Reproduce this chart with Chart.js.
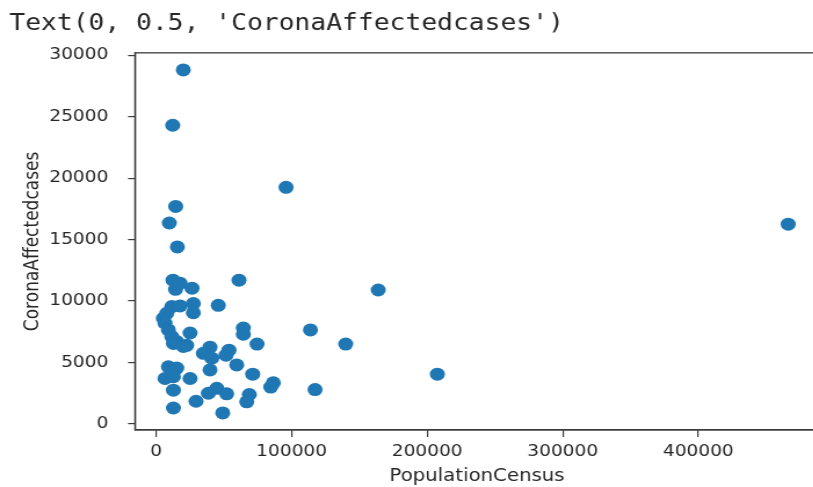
<!DOCTYPE html>
<html>
<head>
<meta charset="utf-8">
<script src="https://cdn.jsdelivr.net/npm/chart.js@4"></script>
<style>
    html, body { margin: 0; padding: 0; background: #fff; overflow: hidden; }
    #wrap { width: 720px; height: 487px; transform: scaleX(1.16); transform-origin: 0 0; }
</style>
</head>
<body>
<div id="wrap"><canvas id="scatter_chart" width="720" height="487"></canvas></div>
<script>
const populationCensus = [
    20100, 12300, 95900, 14500, 9800, 15700, 12500, 17700, 14400, 26500,
    61200, 45900, 163900, 113900, 27500, 27500, 11600, 17700, 7900, 5400,
    6600, 9100, 11600, 15300, 22600, 25100, 12800, 20100, 39800, 34900,
    41100, 39800, 53800, 51600, 59500, 64400, 64400, 74500, 71300, 9100,
    15300, 6600, 12800, 12800, 25100, 44800, 38600, 52100, 29500, 12800,
    49200, 68800, 66900, 86500, 84600, 117300, 139900, 207500, 466300
];
const coronaAffectedCases = [
    28800, 24300, 19250, 17700, 16350, 14400, 11700, 11450, 10950, 11050,
    11700, 9650, 10900, 7650, 9800, 9050, 9550, 9600, 9000, 8600,
    8200, 7650, 7100, 6700, 6400, 7400, 6550, 6300, 6250, 5750,
    5350, 4400, 6000, 5600, 4800, 7800, 7300, 6500, 4050, 4650,
    4550, 3700, 3850, 2750, 3700, 2900, 2500, 2450, 1850, 1300,
    900, 2400, 1800, 3350, 3000, 2800, 6500, 4050, 16250
];
const xTicks = [0, 100000, 200000, 300000, 400000];
const yTicks = [0, 5000, 10000, 15000, 20000, 25000, 30000];

const axisColor = '#3c3c3c';
const textColor = '#262626';

// matplotlib-like box around the plot area
const framePlugin = {
    id: 'frame',
    afterDatasetsDraw(chart) {
        const { ctx, chartArea: a } = chart;
        ctx.save();
        ctx.strokeStyle = axisColor;
        ctx.lineWidth = 1.3;
        ctx.strokeRect(a.left, a.top, a.right - a.left, a.bottom - a.top);
        ctx.restore();
    }
};

const points = populationCensus.map((x, i) => ({ x: x, y: coronaAffectedCases[i] }));

new Chart(document.getElementById('scatter_chart'), {
    type: 'scatter',
    data: {
        datasets: [{
            data: points,
            backgroundColor: '#1f77b4',
            borderWidth: 0,
            pointRadius: 6.5,
            pointHoverRadius: 6.5,
        }]
    },
    options: {
        responsive: false,
        animation: false,
        layout: { padding: { left: 8, right: 14, top: 0, bottom: 0 } },
        plugins: {
            legend: { display: false },
            tooltip: { enabled: false },
            title: {
                display: true,
                text: "Text(0, 0.5, 'CoronaAffectedcases')",
                align: 'start',
                color: textColor,
                font: { family: '"DejaVu Sans Mono", monospace', size: 22.7, weight: 'normal' },
                padding: { top: 10.4, bottom: 15.2 }
            }
        },
        scales: {
            x: {
                type: 'linear',
                min: -15500,
                max: 489000,
                afterBuildTicks: (scale) => { scale.ticks = xTicks.map(v => ({ value: v })); },
                afterFit: (scale) => { scale.height = 57; },
                grid: { drawOnChartArea: false, drawTicks: true, tickLength: 7, tickColor: axisColor, lineWidth: 1.2 },
                border: { display: true, color: axisColor, width: 1.3 },
                ticks: {
                    color: textColor,
                    padding: 5,
                    maxRotation: 0,
                    font: { family: '"DejaVu Sans", sans-serif', size: 16 },
                    callback: (v) => String(v)
                },
                title: {
                    display: true,
                    text: 'PopulationCensus',
                    color: textColor,
                    font: { family: '"DejaVu Sans", sans-serif', size: 17 },
                    padding: { top: 0, bottom: 0 }
                }
            },
            y: {
                type: 'linear',
                min: -490,
                max: 30190,
                afterBuildTicks: (scale) => { scale.ticks = yTicks.map(v => ({ value: v })); },
                afterFit: (scale) => { scale.width = 108.4; },
                grid: { drawOnChartArea: false, drawTicks: true, tickLength: 6, tickColor: axisColor, lineWidth: 1.2 },
                border: { display: true, color: axisColor, width: 1.3 },
                ticks: {
                    color: textColor,
                    padding: 17,
                    font: { family: '"DejaVu Sans", sans-serif', size: 16 },
                    callback: (v) => String(v)
                },
                title: {
                    display: true,
                    text: 'CoronaAffectedcases',
                    color: textColor,
                    font: { family: '"DejaVu Sans", sans-serif', size: 17 },
                    padding: { top: 10.7, bottom: 0 }
                }
            }
        }
    },
    plugins: [framePlugin]
});
</script>
</body>
</html>
